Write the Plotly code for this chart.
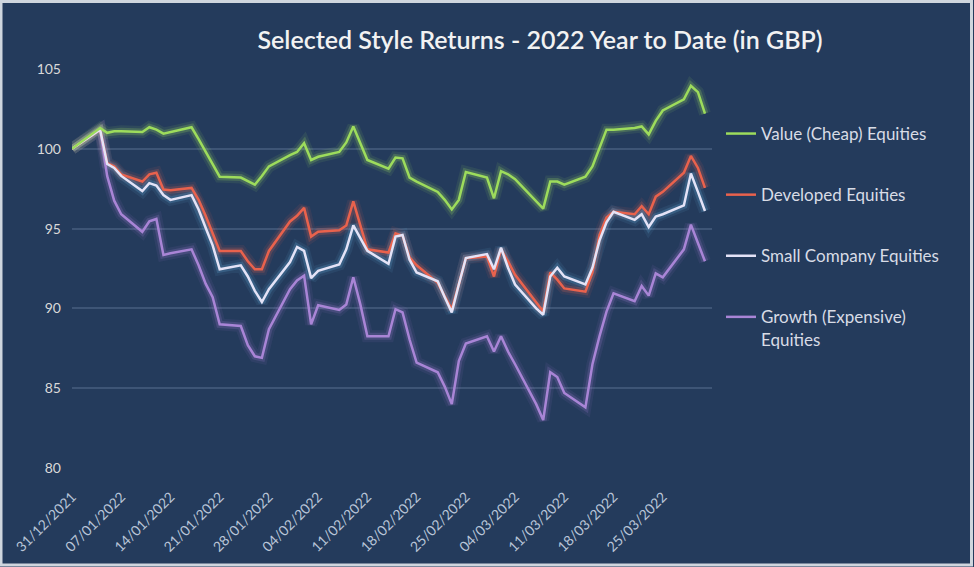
import plotly.graph_objects as go
from datetime import datetime

# ---------------- data ----------------
dates = [
    "2021-12-31",
    "2022-01-04", "2022-01-05", "2022-01-06", "2022-01-07",
    "2022-01-10", "2022-01-11", "2022-01-12", "2022-01-13", "2022-01-14",
    "2022-01-17", "2022-01-18", "2022-01-19", "2022-01-20", "2022-01-21",
    "2022-01-24", "2022-01-25", "2022-01-26", "2022-01-27", "2022-01-28",
    "2022-01-31", "2022-02-01", "2022-02-02", "2022-02-03", "2022-02-04",
    "2022-02-07", "2022-02-08", "2022-02-09", "2022-02-10", "2022-02-11",
    "2022-02-14", "2022-02-15", "2022-02-16", "2022-02-17", "2022-02-18",
    "2022-02-21", "2022-02-22", "2022-02-23", "2022-02-24", "2022-02-25",
    "2022-02-28", "2022-03-01", "2022-03-02", "2022-03-03", "2022-03-04",
    "2022-03-07", "2022-03-08", "2022-03-09", "2022-03-10", "2022-03-11",
    "2022-03-14", "2022-03-15", "2022-03-16", "2022-03-17", "2022-03-18",
    "2022-03-21", "2022-03-22", "2022-03-23", "2022-03-24", "2022-03-25",
    "2022-03-28", "2022-03-29", "2022-03-30", "2022-03-31",
]
axis_end = "2022-04-01"

value_equities = [
    100.0,
    101.3, 101.0, 101.1, 101.1,
    101.05, 101.35, 101.2, 100.95, 101.05,
    101.35, 100.6, 99.8, 99.0, 98.25,
    98.2, 98.0, 97.75, 98.3, 98.9,
    99.6, 99.8, 100.35, 99.3, 99.5,
    99.8, 100.4, 101.4, 100.35, 99.3,
    98.75, 99.45, 99.4, 98.2, 97.95,
    97.3, 96.8, 96.2, 96.8, 98.55,
    98.2, 96.9, 98.6, 98.4, 98.1,
    96.7, 96.25, 97.95, 97.95, 97.75,
    98.25, 98.9, 100.05, 101.2, 101.2,
    101.3, 101.4, 100.9, 101.75, 102.4,
    103.1, 103.95, 103.55, 102.2,
]

developed_equities = [
    100.0,
    101.2, 99.1, 98.9, 98.4,
    97.95, 98.4, 98.5, 97.45, 97.4,
    97.55, 96.8, 95.8, 94.7, 93.6,
    93.6, 92.95, 92.45, 92.45, 93.6,
    95.45, 95.8, 96.3, 94.5, 94.8,
    94.9, 95.2, 96.7, 95.2, 93.7,
    93.5, 94.7, 94.55, 93.2, 92.7,
    91.6, 90.75, 89.95, 91.5, 93.15,
    93.25, 92.0, 93.7, 92.95, 92.1,
    90.4, 89.8, 92.25, 91.8, 91.25,
    91.05, 92.25, 94.6, 95.7, 96.05,
    95.9, 96.4, 95.9, 97.0, 97.3,
    98.5, 99.55, 98.8, 97.55,
]

small_company_equities = [
    100.0,
    101.2, 99.05, 98.8, 98.3,
    97.35, 97.85, 97.7, 97.1, 96.8,
    97.1, 96.2, 95.05, 93.95, 92.45,
    92.7, 92.0, 91.1, 90.4, 91.2,
    92.9, 93.85, 93.6, 91.9, 92.35,
    92.75, 93.7, 95.2, 94.4, 93.6,
    92.8, 94.5, 94.6, 93.05, 92.25,
    91.7, 90.7, 89.75, 91.5, 93.15,
    93.4, 92.45, 93.8, 92.55, 91.5,
    90.0, 89.6, 92.0, 92.55, 92.0,
    91.5, 92.55, 94.25, 95.4, 96.05,
    95.55, 95.9, 95.1, 95.75, 95.9,
    96.45, 98.45, 97.3, 96.1,
]

growth_equities = [
    100.0,
    101.2, 98.3, 96.75, 95.9,
    94.8, 95.45, 95.6, 93.35, 93.45,
    93.7, 92.7, 91.55, 90.7, 89.0,
    88.9, 87.7, 87.0, 86.9, 88.7,
    91.2, 91.75, 92.05, 89.0, 90.2,
    89.9, 90.25, 91.95, 90.25, 88.25,
    88.25, 89.95, 89.75, 88.05, 86.6,
    86.0, 85.1, 84.0, 86.7, 87.8,
    88.25, 87.3, 88.25, 87.3, 86.5,
    84.0, 83.0, 86.0, 85.7, 84.7,
    83.8, 86.5, 88.25, 89.8, 90.95,
    90.45, 91.4, 90.8, 92.2, 91.95,
    93.7, 95.25, 94.1, 92.95,
]

series_names = [
    "Value (Cheap) Equities",
    "Developed Equities",
    "Small Company Equities",
    "Growth (Expensive)<br>Equities",
]

tick_labels = [
    "31/12/2021", "07/01/2022", "14/01/2022", "21/01/2022", "28/01/2022",
    "04/02/2022", "11/02/2022", "18/02/2022", "25/02/2022", "04/03/2022",
    "11/03/2022", "18/03/2022", "25/03/2022",
]
y_ticks = [80, 85, 90, 95, 100, 105]

# ---------------- style ----------------
BG = "#243b5c"
styles = {
    series_names[0]: dict(color="#9ddc5c", glow="rgba(170,235,95,{a})"),
    series_names[1]: dict(color="#e9624d", glow="rgba(235,105,85,{a})"),
    series_names[2]: dict(color="#e4e3f7", glow="rgba(110,185,235,{a})"),
    series_names[3]: dict(color="#a985d6", glow="rgba(165,125,215,{a})"),
}
values = {
    series_names[0]: value_equities,
    series_names[1]: developed_equities,
    series_names[2]: small_company_equities,
    series_names[3]: growth_equities,
}
draw_order = [series_names[3], series_names[1], series_names[2], series_names[0]]

fig = go.Figure()

# glow layers
for name in draw_order:
    st = styles[name]
    for w, a in [(12, 0.09), (7, 0.20)]:
        fig.add_trace(go.Scatter(
            x=dates, y=values[name], mode="lines",
            line=dict(color=st["glow"].format(a=a), width=w),
            showlegend=False, hoverinfo="skip",
        ))

# main lines
for name in draw_order:
    st = styles[name]
    fig.add_trace(go.Scatter(
        x=dates, y=values[name], mode="lines", name=name,
        legendgroup=name, legendrank=series_names.index(name) + 1,
        line=dict(color=st["color"], width=2.5),
    ))

tick_vals = [datetime.strptime(t, "%d/%m/%Y").strftime("%Y-%m-%d") for t in tick_labels]

L, R, T, B = 72, 262, 69, 99
W, H = 974, 567
pw, ph = W - L - R, H - T - B

def px_x(p):
    return (p - L) / pw

def px_y(p):
    return (H - B - p) / ph

fig.update_layout(
    width=W, height=H, autosize=False,
    margin=dict(l=L, r=R, t=T, b=B, pad=0),
    paper_bgcolor=BG, plot_bgcolor=BG,
    font=dict(family="Lato, Noto Sans, sans-serif", color="#d9dde6"),
    title=dict(
        text="Selected Style Returns - 2022 Year to Date (in GBP)",
        x=540 / W, xanchor="center", y=1 - 40 / H, yanchor="middle",
        font=dict(family="Lato, sans-serif", size=25, color="#f2f2f2", weight=600),
    ),
    xaxis=dict(
        type="date", range=[dates[0], axis_end],
        tickvals=tick_vals, ticktext=tick_labels, tickangle=-45,
        showgrid=False, zeroline=False, showline=False, ticks="",
        tickfont=dict(size=14, color="#b9c5d8"),
        ticklabelstandoff=17,
    ),
    yaxis=dict(
        range=[80, 105], tickvals=y_ticks,
        showgrid=True, gridcolor="#3e5576", gridwidth=1.5,
        zeroline=False, showline=False, ticks="",
        tickfont=dict(size=14, color="#d9d9d9"),
        ticklabelstandoff=10,
    ),
    legend=dict(
        x=px_x(721), xanchor="left", y=px_y(116), yanchor="top",
        bgcolor="rgba(0,0,0,0)", font=dict(size=17, color="#d8dce6"),
        tracegroupgap=36, valign="top", itemwidth=30,
        traceorder="grouped",
    ),
    showlegend=True,
    hovermode=False,
)

# thin light frame around the picture
fig.add_shape(
    type="rect", xref="paper", yref="paper",
    x0=px_x(1), x1=px_x(971.5), y0=px_y(565), y1=px_y(1.5),
    line=dict(color="#cfd6de", width=3), fillcolor="rgba(0,0,0,0)", layer="above",
)

fig.write_html("out.html")
